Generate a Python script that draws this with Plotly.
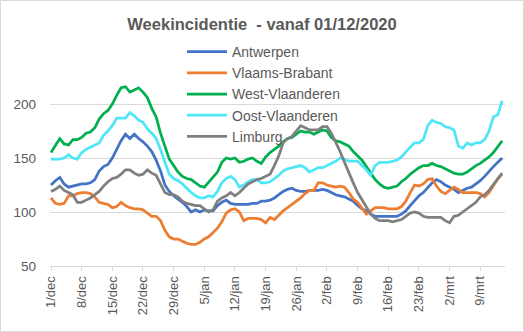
import pandas as pd
import plotly.graph_objects as go

dates = pd.date_range("2020-12-01", periods=104, freq="D")

antwerpen = [125, 129, 132, 126, 123, 124, 125, 126, 126, 127, 130, 138, 142, 144, 150, 158, 166, 172, 168, 172,
             168, 165, 161, 156, 148, 138, 125, 119, 115, 112, 109, 105, 100, 102, 100, 102, 101, 101, 106, 109,
             111, 108, 107, 107, 107, 107, 108, 108, 110, 110, 111, 113, 116, 119, 121, 122, 120, 119, 119, 120,
             120, 120, 121, 120, 118, 116, 115, 114, 112, 110, 106, 103, 101, 98, 96, 96, 96, 96, 96, 96,
             98, 101, 106, 111, 115, 118, 123, 127, 130, 128, 125, 123, 121, 118, 120, 122, 123, 126, 129, 133,
             138, 142, 146, 150]

vlaams_brabant = [113, 108, 107, 108, 115, 115, 117, 118, 118, 117, 114, 109, 108, 107, 104, 105, 109, 106, 104, 103,
                  103, 102, 99, 96, 96, 92, 83, 77, 75, 75, 73, 71, 70, 70, 72, 75, 77, 81, 85, 91,
                  99, 102, 103, 100, 92, 94, 94, 94, 93, 90, 95, 93, 97, 101, 104, 107, 110, 113, 117, 120,
                  120, 127, 127, 125, 124, 123, 124, 123, 118, 112, 109, 103, 98, 101, 104, 104, 104, 103, 103, 103,
                  105, 110, 118, 125, 124, 126, 130, 131, 124, 119, 117, 120, 123, 121, 118, 118, 118, 118, 117, 114,
                  118, 125, 131, 135]

west_vlaanderen = [155, 161, 168, 163, 162, 167, 167, 169, 173, 174, 178, 186, 191, 194, 200, 208, 215, 216, 211, 213,
                   215, 211, 206, 196, 188, 173, 160, 149, 143, 137, 133, 131, 130, 127, 124, 123, 128, 133, 137, 146,
                   150, 149, 150, 146, 147, 149, 150, 147, 145, 151, 155, 158, 161, 165, 168, 169, 172, 175, 174, 174,
                   172, 174, 176, 175, 169, 166, 165, 163, 161, 156, 152, 148, 142, 136, 130, 126, 123, 122, 123, 124,
                   128, 131, 135, 138, 141, 143, 143, 145, 143, 142, 140, 138, 136, 135, 135, 137, 140, 143, 145, 148,
                   151, 155, 160, 166]

oost_vlaanderen = [149, 149, 149, 150, 153, 150, 149, 155, 158, 160, 162, 164, 171, 175, 180, 187, 187, 187, 192, 189,
                   185, 183, 177, 173, 168, 158, 146, 135, 131, 129, 126, 122, 118, 115, 113, 113, 115, 114, 119, 127,
                   131, 133, 130, 123, 125, 128, 130, 130, 127, 127, 128, 131, 134, 138, 140, 141, 142, 143, 141, 137,
                   139, 141, 141, 143, 145, 147, 150, 149, 147, 147, 147, 143, 139, 134, 143, 146, 146, 146, 147, 148,
                   151, 156, 160, 164, 164, 167, 180, 185, 183, 182, 179, 178, 176, 161, 159, 164, 162, 164, 164, 167,
                   175, 188, 190, 203]

limburg = [119, 121, 124, 120, 118, 116, 109, 109, 111, 113, 116, 119, 124, 128, 131, 132, 135, 139, 139, 136,
           134, 135, 139, 136, 134, 126, 118, 116, 116, 114, 110, 108, 107, 106, 106, 103, 100, 102, 110, 113,
           115, 118, 115, 118, 122, 126, 128, 130, 131, 133, 135, 143, 152, 164, 168, 170, 175, 180, 178, 176,
           176, 176, 179, 179, 173, 165, 156, 146, 136, 127, 118, 111, 104, 98, 94, 92, 92, 92, 91, 92,
           93, 96, 99, 100, 99, 96, 95, 95, 95, 95, 92, 90, 96, 97, 100, 103, 106, 109, 114, 116,
           120, 125, 131, 136]

series_names = ["Antwerpen", "Vlaams-Brabant", "West-Vlaanderen", "Oost-Vlaanderen", "Limburg"]
series_values = [antwerpen, vlaams_brabant, west_vlaanderen, oost_vlaanderen, limburg]
colors = ["#4472C4", "#ED7D31", "#00B050", "#4FE6F7", "#7F7F7F"]

tick_dates = pd.date_range("2020-12-01", periods=15, freq="7D")
tick_labels = ["1/dec", "8/dec", "15/dec", "22/dec", "29/dec", "5/jan", "12/jan", "19/jan",
               "26/jan", "2/feb", "9/feb", "16/feb", "23/feb", "2/mrt", "9/mrt"]

FONT = "Liberation Sans"
GREY = "#595959"
LINE = "#D9D9D9"

fig = go.Figure()
for name, vals, col in zip(series_names, series_values, colors):
    fig.add_trace(go.Scatter(x=dates, y=vals, mode="lines", name=name,
                             line=dict(color=col, width=2.75)))

W, H = 524, 332
ml, mr, mt, mb = 50, 19, 50, 66
pw, ph = W - ml - mr, H - mt - mb

fig.update_layout(
    width=W, height=H,
    margin=dict(l=ml, r=mr, t=mt, b=mb, pad=0),
    paper_bgcolor="white", plot_bgcolor="white",
    font=dict(family=FONT, color=GREY),
    title=dict(text="<b>Weekincidentie \u00a0- vanaf 01/12/2020</b>",
               font=dict(family=FONT, size=16.5, color=GREY),
               x=0.5, xref="container", xanchor="center",
               y=1 - 24 / H, yref="container", yanchor="middle"),
    showlegend=True,
    legend=dict(x=(182 - ml) / pw, xanchor="left", y=(mt + ph - 36) / ph, yanchor="top",
                font=dict(family=FONT, size=14, color=GREY), bgcolor="rgba(0,0,0,0)",
                itemwidth=40, borderwidth=0),
    xaxis=dict(type="date", range=["2020-11-30 18:30", "2021-03-14 15:30"],
               tickvals=tick_dates, ticktext=tick_labels, tickangle=-90,
               tickfont=dict(family=FONT, size=13, color=GREY),
               showline=True, linecolor=LINE, linewidth=1,
               ticks="outside", ticklen=4, tickcolor=LINE,
               showgrid=False, zeroline=False, automargin=False),
    yaxis=dict(range=[50, 250], tickvals=[50, 100, 150, 200],
               tickfont=dict(family=FONT, size=13.5, color=GREY),
               showgrid=True, gridcolor=LINE, gridwidth=1,
               showline=False, zeroline=False, ticks="", automargin=False,
               ticklabelstandoff=13),
)

fig.add_shape(type="rect", xref="paper", yref="paper",
              x0=(0.5 - ml) / pw, x1=(W - 0.5 - ml) / pw,
              y0=(mt + ph - (H - 0.5)) / ph, y1=(mt + ph - 0.5) / ph,
              line=dict(color=LINE, width=1), fillcolor="rgba(0,0,0,0)", layer="below")

fig.write_html("out.html")
